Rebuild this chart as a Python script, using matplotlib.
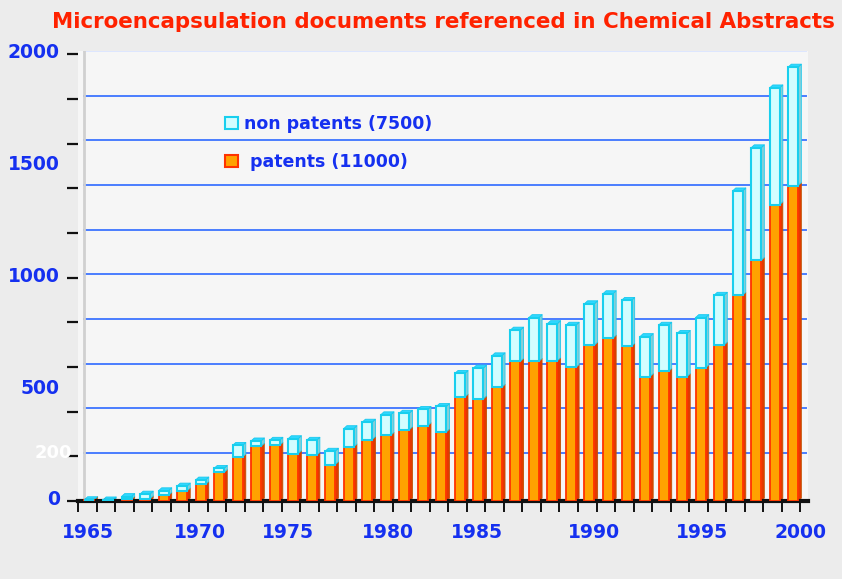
import numpy as np
import matplotlib.pyplot as plt
from matplotlib.patches import Patch
from matplotlib.collections import PolyCollection

# values (one bar per year slot, 39 slots)
patents = [6, 0, 8, 10, 25, 45, 74, 128, 197, 245, 249, 212, 205, 163, 242, 275,
           294, 319, 337, 309, 465, 457, 509, 625, 625, 628, 598, 698, 729, 692,
           557, 580, 557, 596, 698, 921, 1077, 1326, 1412]
non_patents = [0, 5, 12, 21, 21, 22, 20, 18, 52, 24, 23, 67, 67, 60, 82, 78,
               92, 74, 73, 114, 106, 138, 141, 140, 196, 166, 189, 185, 199, 206,
               179, 207, 193, 225, 223, 467, 504, 523, 530]
year_labels = ['1965', '1970', '1975', '1980', '1985', '1990', '1995', '2000']
year_label_pos = [-0.1, 5.97, 10.71, 16.09, 20.94, 27.23, 33.1, 38.37]
y_labels = [0, 500, 1000, 1500, 2000]

blue = '#1530f0'
wall = 14  # back wall sits a little higher than the front (3D look)

fig = plt.figure(figsize=(8.42, 5.79), dpi=100, facecolor='#ececec')
ax = fig.add_axes([78 / 842, 78 / 579, 730 / 842, 450 / 579])
ax.set_facecolor('#f6f6f6')

x = np.arange(len(patents))
p = np.array(patents, dtype=float)
t = p + np.array(non_patents, dtype=float)
w = 0.54
dx, dy = 0.17, 13

# grid on the back wall
for g in range(200, 2001, 200):
    ax.plot([-0.28, 38.7], [g + wall, g + wall], color='#4a7dff' if g < 2000 else '#dde6ff',
            lw=1.4, zorder=1)
ax.plot([-0.28, -0.28], [wall, 2000 + wall], color='#d0d0d0', lw=2, zorder=1)

# side and top faces
side_p = [[(xi + w / 2, 0), (xi + w / 2 + dx, dy), (xi + w / 2 + dx, pi + dy), (xi + w / 2, pi)]
          for xi, pi in zip(x, p)]
side_n = [[(xi + w / 2, pi), (xi + w / 2 + dx, pi + dy), (xi + w / 2 + dx, ti + dy), (xi + w / 2, ti)]
          for xi, pi, ti in zip(x, p, t) if ti > pi]
top_n = [[(xi - w / 2, ti), (xi - w / 2 + dx, ti + dy), (xi + w / 2 + dx, ti + dy), (xi + w / 2, ti)]
         for xi, ti in zip(x, t)]
ax.add_collection(PolyCollection(side_p, facecolors='#e33a00', edgecolors='#c05000', lw=0.6, zorder=2))
ax.add_collection(PolyCollection(side_n, facecolors='#86cfd8', edgecolors='#20c8ec', lw=0.6, zorder=2))
ax.add_collection(PolyCollection(top_n, facecolors='#30d8ff', edgecolors='#18c8ee', lw=0.6, zorder=2))

ax.bar(x, p, width=w, color='#ffa200', edgecolor='#ff3300', lw=1.3, zorder=3)
ax.bar(x, non_patents, width=w, bottom=p, color='#d2fdff', edgecolor='#18cfee', lw=1.5, zorder=3)

ax.set_xlim(-0.484, 38.8)
ax.set_ylim(0, 2000)

for s in ['top', 'right', 'left']:
    ax.spines[s].set_visible(False)
ax.spines['bottom'].set_linewidth(3)
ax.spines['bottom'].set_color('#111111')

ax.set_yticks([v + wall for v in y_labels])
ax.set_yticklabels([str(v) for v in y_labels])
ax.set_yticks(range(0, 2001, 200), minor=True)
ax.tick_params(axis='y', which='major', length=0, pad=13, labelsize=13.5, labelcolor=blue)
ax.tick_params(axis='y', which='minor', length=8, width=1.6, color='#111111')
ax.text(-0.95, 200 + wall, '200', transform=ax.transData, ha='right', va='center',
        color='white', fontsize=13, weight='bold', clip_on=False)

ax.set_xticks(year_label_pos)
ax.set_xticklabels(year_labels)
ax.set_xticks(np.arange(len(patents) + 1) - 0.62, minor=True)
ax.tick_params(axis='x', which='major', length=0, pad=16, labelsize=13.5, labelcolor=blue)
ax.tick_params(axis='x', which='minor', length=8, width=1.4, color='#111111')
for lab in ax.get_xticklabels() + ax.get_yticklabels():
    lab.set_fontweight('bold')

handles = [Patch(facecolor='#d2fdff', edgecolor='#18cfee', lw=1.5),
           Patch(facecolor='#ffa200', edgecolor='#ff3300', lw=1.5)]
ax.legend(handles, ['non patents (7500)', ' patents (11000)'], loc='upper left',
          bbox_to_anchor=(0.19, 0.877), frameon=False, handlelength=0.75, handleheight=0.75,
          handletextpad=0.3, labelspacing=1.15, borderpad=0,
          prop={'weight': 'bold', 'size': 12.5}, labelcolor=blue)

fig.text(835 / 842, 1 - 22 / 579, 'Microencapsulation documents referenced in Chemical Abstracts',
         ha='right', va='center', color='#ff2200', fontsize=15.4, weight='bold')

fig.savefig('out.png', dpi=100, facecolor=fig.get_facecolor())
